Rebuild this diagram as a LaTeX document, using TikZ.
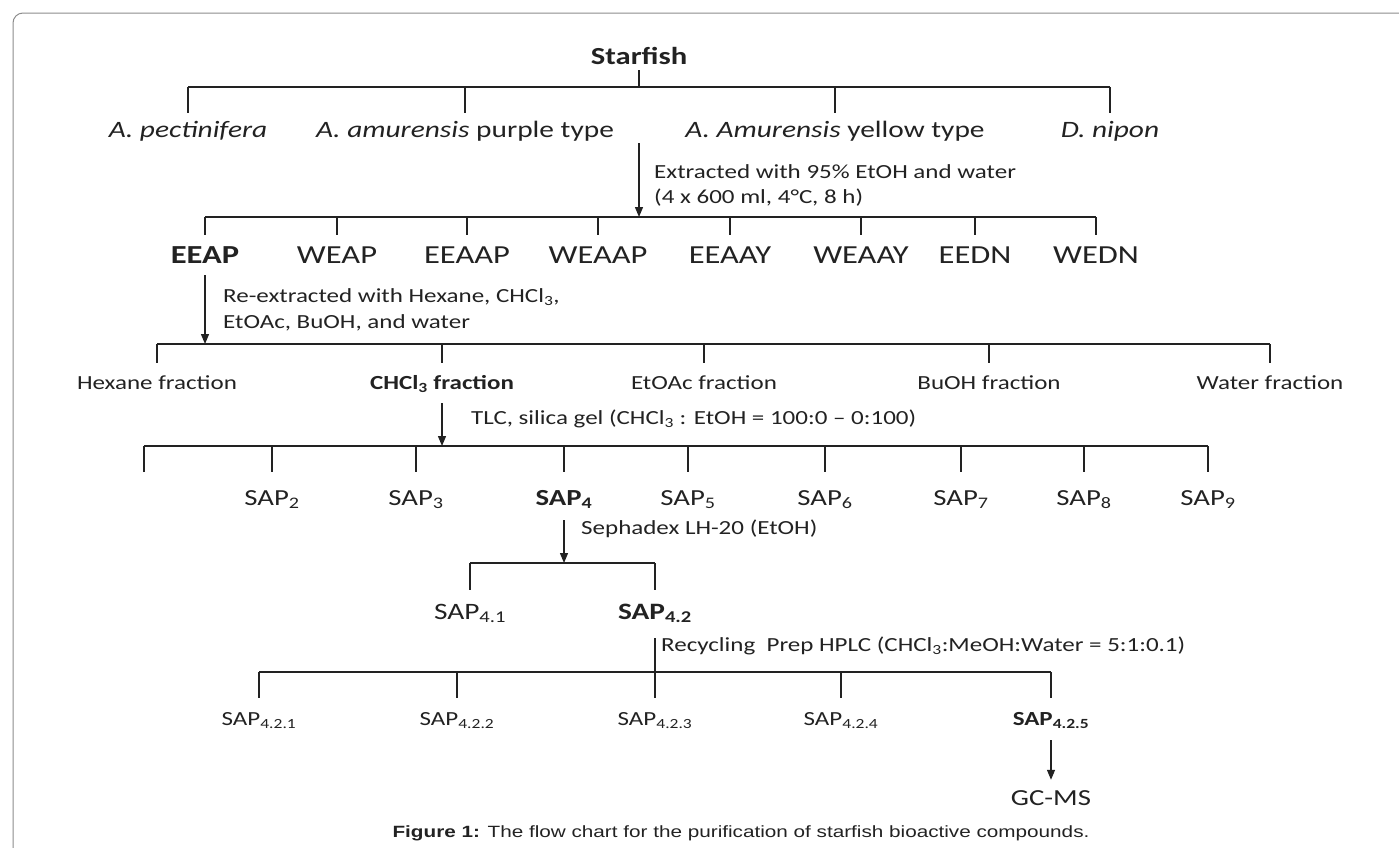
\documentclass[tikz,border=0pt]{standalone}
\usepackage{fontspec}
\setmainfont[FakeStretch=1.25]{Carlito}
\newfontfamily\captionfont[FakeStretch=1.27]{Liberation Sans}
\usetikzlibrary{arrows.meta}
\definecolor{ink}{HTML}{222222}
\definecolor{frame}{HTML}{8C8C8C}

\tikzset{
  lbl/.style n args={3}{anchor=base, inner sep=0pt, text=ink,
    font=\fontsize{#1}{#1}\selectfont, text height=#2pt, text depth=#3pt},
  note/.style={anchor=base west, inner sep=0pt, align=left, text=ink,
    font=\fontsize{20}{25}\selectfont},
  link/.style={draw=ink, line width=1.3pt},
  flow/.style={link, -{Triangle[length=10pt,width=8pt]}}
}

\begin{document}
\begin{tikzpicture}[x=1pt,y=-1pt]
    \useasboundingbox (0,0) rectangle (1399,847);
    \clip (0,0) rectangle (1399,847);
    \draw[frame, line width=1pt, rounded corners=10pt] (13,13) rectangle (1430,880);

    % Bars
    \coordinate (bar1) at (0,87);
    \coordinate (bar2) at (0,217);
    \coordinate (bar3) at (0,344);
    \coordinate (bar4) at (0,446);
    \coordinate (bar5) at (0,563);
    \coordinate (bar6) at (0,672);

    % Starfish and species
    \node[lbl={24.5}{18}{6}] (starfish) at (639,64) {\bfseries Starfish};
    \node[lbl={23.5}{24}{5}] (pect) at (188,137) {\textit{A. pectinifera}};
    \node[lbl={23.5}{24}{5}] (purple) at (465,137) {\textit{A. amurensis} purple type};
    \node[lbl={23.5}{24}{5}] (yellow) at (835,137) {\textit{A. Amurensis} yellow type};
    \node[lbl={23.5}{24}{5}] (nipon) at (1110,137) {\textit{D. nipon}};

    \draw[link] (starfish.south) -- (starfish.south |- bar1);
    \draw[link] (pect.north |- bar1) -- (nipon.north |- bar1);
    \foreach \n in {pect,purple,yellow,nipon}
      \draw[link] (\n.north) -- (\n.north |- bar1);

    % Extraction
    \coordinate (ext) at (639,143);
    \draw[flow] (ext) -- (ext |- bar2);
    \node[note, anchor=north west] (exttxt) at (654,164)
      {Extracted with 95\% EtOH and water\\(4 x 600 ml, 4°C, 8 h)};

    % Crude extracts
    \node[lbl={26}{28}{12}] (eeap) at (205,263) {\bfseries EEAP};
    \foreach \n/\x/\t in {weap/337/WEAP, eeaap/467/EEAAP, weaap/598/WEAAP,
        eeaay/730/EEAAY, weaay/861/WEAAY, eedn/975/EEDN, wedn/1096/WEDN}
      \node[lbl={26}{28}{12}] (\n) at (\x,263) {\t};
    \draw[link] (eeap.north |- bar2) -- (wedn.north |- bar2);
    \foreach \n in {eeap,weap,eeaap,weaap,eeaay,weaay,eedn,wedn}
      \draw[link] (\n.north) -- (\n.north |- bar2);

    % Partition
    \draw[flow] (eeap.south) -- (eeap.south |- bar3);
    \node[note, anchor=north west, font=\fontsize{20}{26}\selectfont] (retxt) at (223,288)
      {Re-extracted with Hexane, CHCl\textsubscript{3},\\EtOAc, BuOH, and water};

    \node[lbl={20}{26}{14}] (hexane) at (157,389) {Hexane fraction};
    \node[lbl={20}{26}{14}] (chcl) at (442,389) {\bfseries CHCl\textsubscript{3} fraction};
    \node[lbl={20}{26}{14}] (etoac) at (704,389) {EtOAc fraction};
    \node[lbl={20}{26}{14}] (buoh) at (989,389) {BuOH fraction};
    \node[lbl={20}{26}{14}] (water) at (1270,389) {Water fraction};
    \draw[link] (hexane.north |- bar3) -- (water.north |- bar3);
    \foreach \n in {hexane,chcl,etoac,buoh,water}
      \draw[link] (\n.north) -- (\n.north |- bar3);

    % TLC
    \draw[flow] (chcl.south) -- (chcl.south |- bar4);
    \node[note] (tlctxt) at (471,424)
      {TLC, silica gel (CHCl\textsubscript{3} : EtOH = 100:0 -- 0:100)};

    \coordinate (sap1) at (144,472);
    \node[lbl={23}{33}{15}] (sap4) at (564,505) {\bfseries SAP\textsubscript{4}};
    \foreach \i/\x in {2/272,3/416,5/688,6/825,7/961,8/1084,9/1208}
      \node[lbl={23}{33}{15}] (sap\i) at (\x,505) {SAP\textsubscript{\i}};
    \draw[link] (sap1 |- bar4) -- (sap9.north |- bar4);
    \draw[link] (sap1) -- (sap1 |- bar4);
    \foreach \i in {2,...,9}
      \draw[link] (sap\i.north) -- (sap\i.north |- bar4);

    % Sephadex
    \draw[flow] (sap4.south) -- (sap4.south |- bar5);
    \node[note] (sephtxt) at (581,534) {Sephadex LH-20 (EtOH)};

    \node[lbl={23.5}{29}{19}] (sapa) at (470,619) {SAP\textsubscript{4.1}};
    \node[lbl={23.5}{29}{19}] (sapb) at (655,619) {\bfseries SAP\textsubscript{4.2}};
    \draw[link] (sapa.north |- bar5) -- (sapb.north |- bar5);
    \foreach \n in {sapa,sapb}
      \draw[link] (\n.north) -- (\n.north |- bar5);

    % HPLC
    \draw[link] (sapb.south) -- (sapb.south |- bar6);
    \node[note] (hplctxt) at (661,651)
      {Recycling\ \ Prep HPLC (CHCl\textsubscript{3}:MeOH:Water = 5:1:0.1)};

    \foreach \i/\x in {1/259,2/457,3/655,4/841}
      \node[lbl={20}{27}{15}] (sapc\i) at (\x,725) {SAP\textsubscript{4.2.\i}};
    \node[lbl={20}{27}{15}] (sapc5) at (1051,725) {\bfseries SAP\textsubscript{4.2.5}};
    \draw[link] (sapc1.north |- bar6) -- (sapc5.north |- bar6);
    \foreach \i in {1,...,5}
      \draw[link] (sapc\i.north) -- (sapc\i.north |- bar6);

    % GC-MS
    \node[lbl={23}{25}{5}] (gcms) at (1051,805) {GC-MS};
    \draw[flow] (sapc5.south) -- (gcms.north);

    % Caption
    \node[anchor=base, inner sep=0pt, text=ink, font=\captionfont\fontsize{16.3}{16.3}\selectfont]
      (caption) at (741,837)
      {\textbf{Figure 1:} The flow chart for the purification of starfish bioactive compounds.};
\end{tikzpicture}
\end{document}
